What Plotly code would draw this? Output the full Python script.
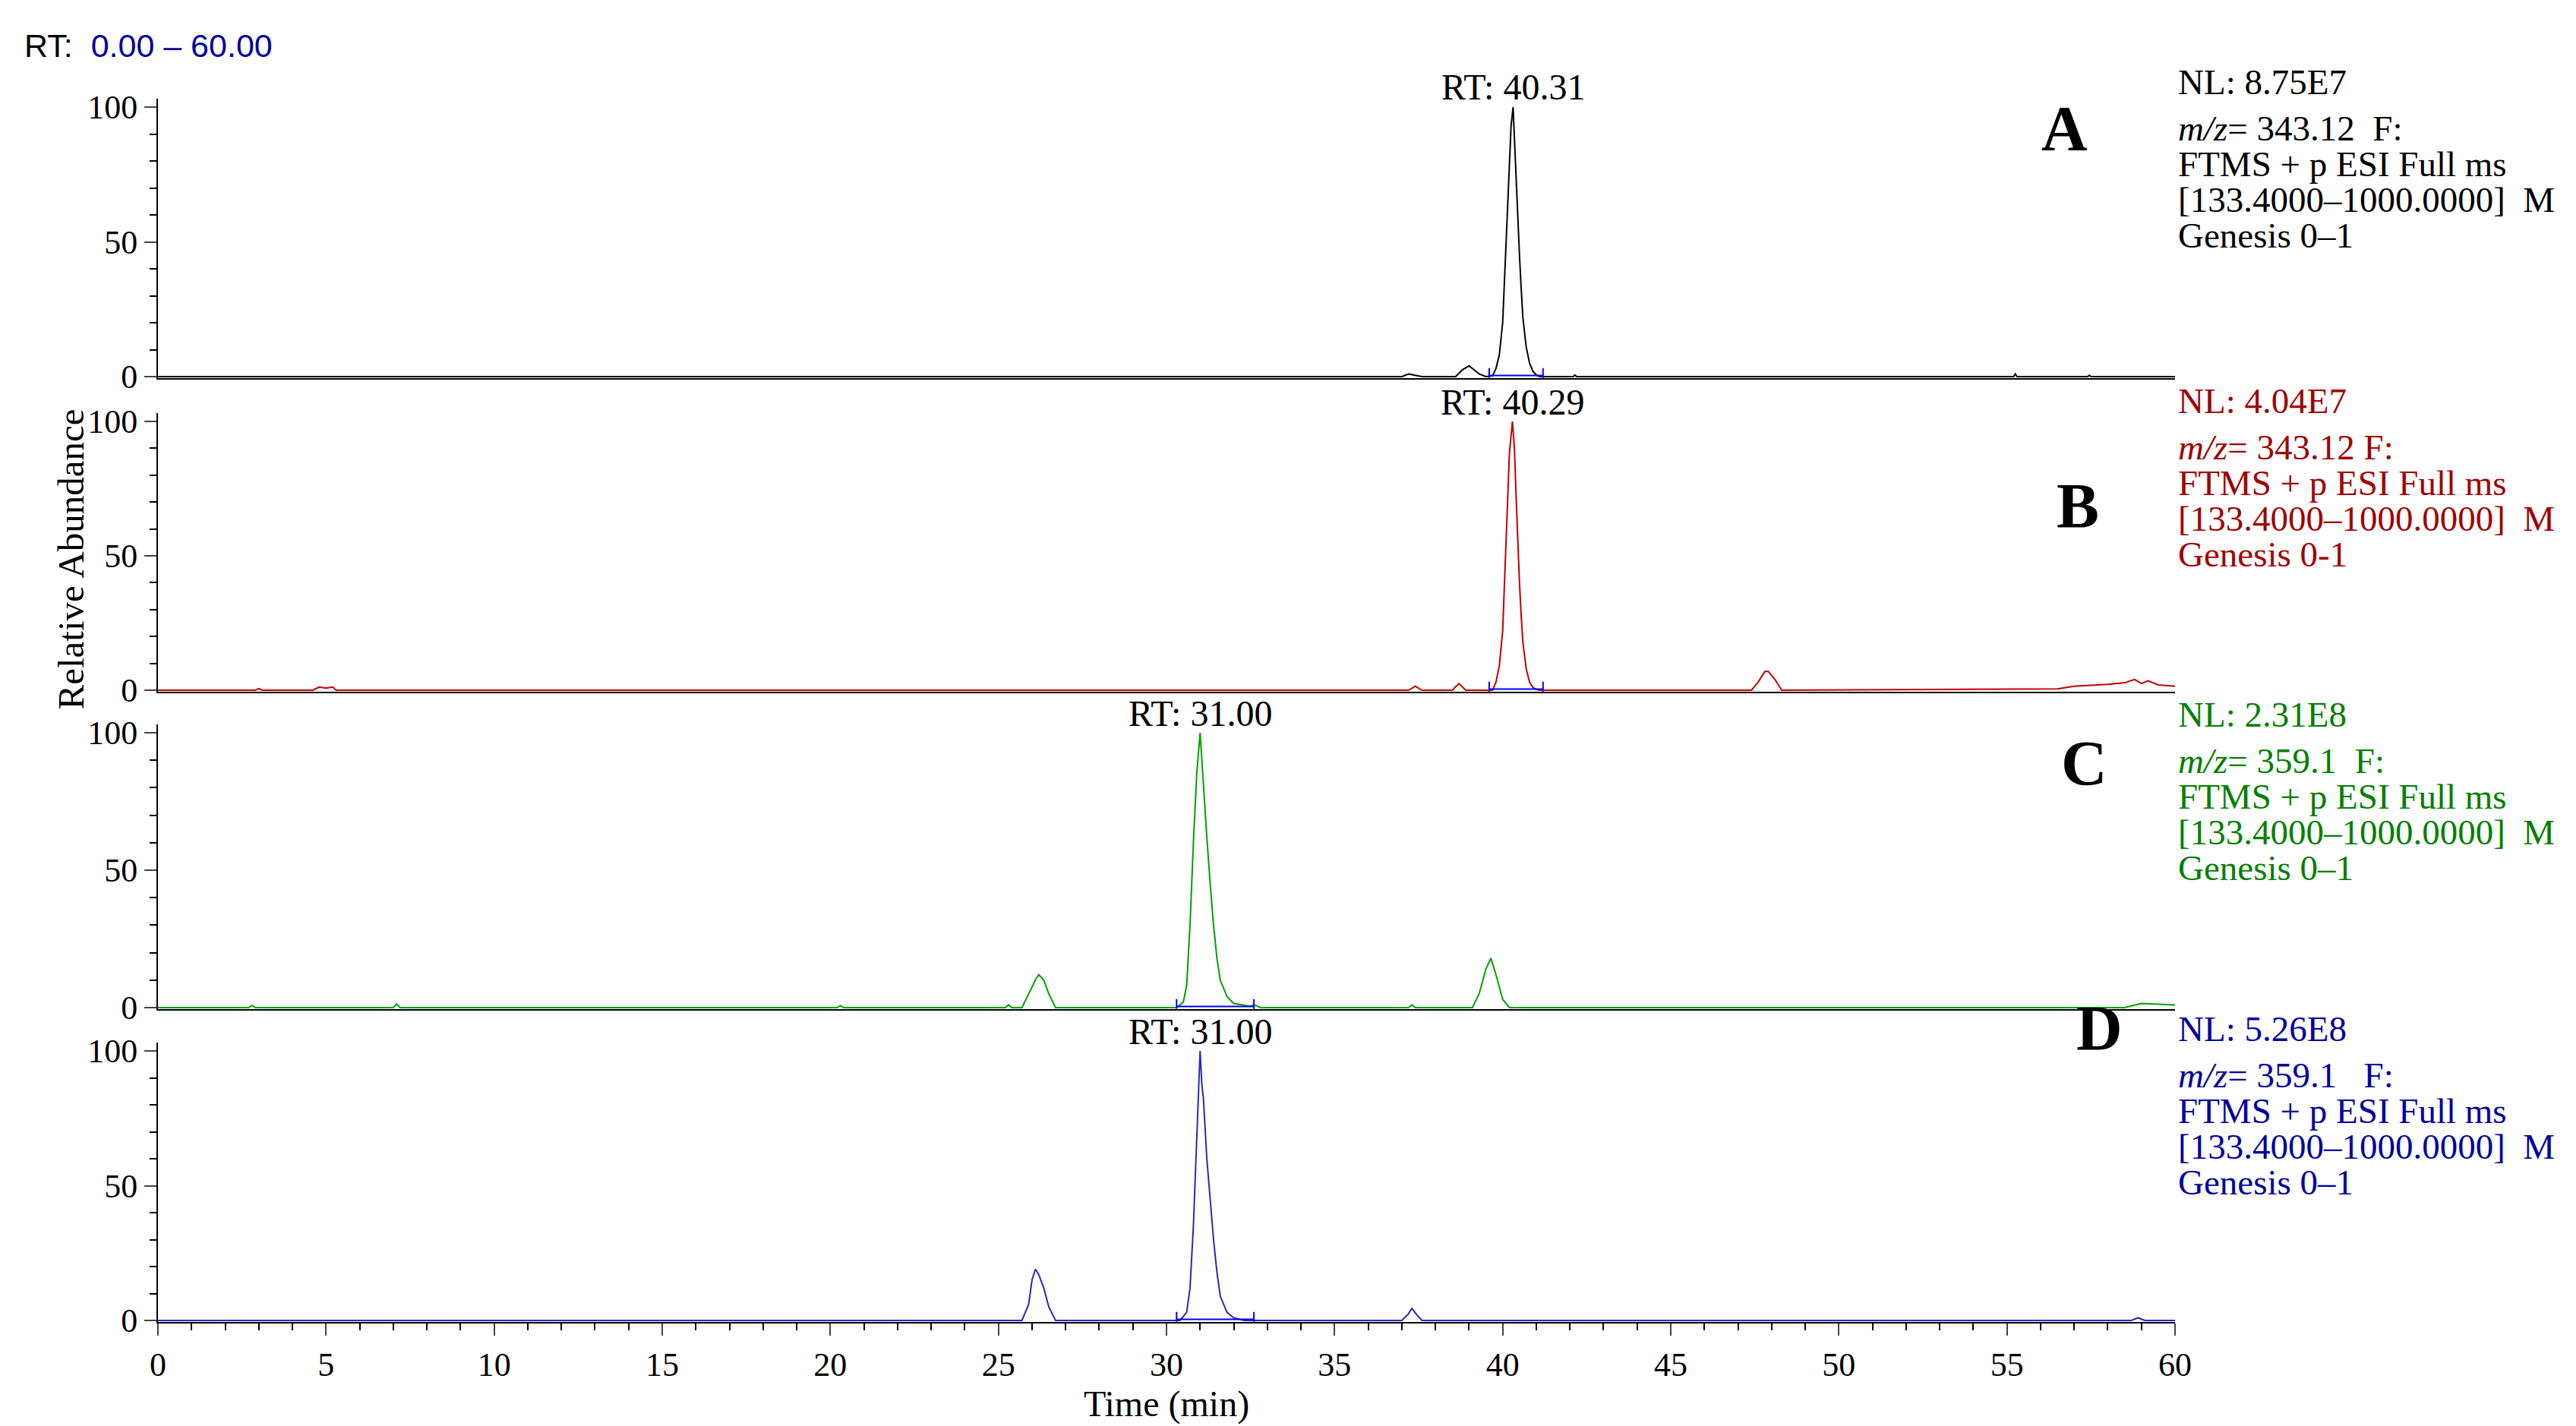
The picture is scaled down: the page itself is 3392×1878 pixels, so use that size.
import plotly.graph_objects as go

W, H = 3392, 1878
FONT = "Liberation Serif"
ML, MR = 200, 536
PW = W - ML - MR

# ---- data (time in min, relative abundance %) ----
a_t = [0, 37.0, 37.2, 37.4, 37.6, 38.6, 38.8, 39.0, 39.3, 39.5, 39.7, 39.8, 39.9, 40.0, 40.05, 40.1, 40.15, 40.2, 40.25, 40.31, 40.35, 40.4, 40.45, 40.5, 40.55, 40.6, 40.7, 40.8, 40.9, 41.0, 41.1, 42.1, 42.15, 42.2, 55.2, 55.25, 55.3, 57.4, 57.45, 57.5, 60]
a_y = [0, 0, 1, 0.6, 0, 0, 2.5, 4, 1, 0, 0.3, 3, 8, 20, 35, 52, 66, 82, 93, 100, 88, 72, 58, 45, 33, 22, 11, 5, 2, 0.6, 0, 0, 0.6, 0, 0, 1, 0, 0, 0.5, 0, 0]

b_t = [0, 2.9, 3.0, 3.1, 4.6, 4.8, 5.0, 5.2, 5.3, 37.2, 37.4, 37.6, 38.5, 38.7, 38.9, 39.7, 39.8, 39.9, 40.0, 40.05, 40.1, 40.15, 40.2, 40.29, 40.35, 40.4, 40.45, 40.5, 40.55, 40.6, 40.7, 40.8, 40.9, 41.0, 41.1, 47.4, 47.6, 47.8, 47.9, 48.1, 48.3, 56.5, 57.0, 57.5, 58.0, 58.5, 58.8, 59.0, 59.2, 59.5, 60]
b_y = [0, 0, 0.6, 0, 0, 1.2, 0.8, 1.2, 0, 0, 1.5, 0, 0, 2.5, 0, 0, 3, 9, 22, 38, 55, 72, 88, 100, 90, 72, 55, 40, 28, 18, 8, 3, 1, 0.3, 0, 0, 3, 7, 7, 4, 0, 0.5, 1.5, 1.8, 2.2, 2.8, 4, 2.5, 3.5, 2, 1.5]

c_t = [0, 2.7, 2.8, 2.9, 7.0, 7.1, 7.2, 20.2, 20.3, 20.4, 25.2, 25.3, 25.4, 25.7, 25.9, 26.1, 26.2, 26.35, 26.5, 26.7, 30.3, 30.5, 30.6, 30.7, 30.8, 30.9, 31.0, 31.05, 31.1, 31.2, 31.3, 31.4, 31.5, 31.6, 31.8, 32.0, 32.5, 32.6, 32.8, 37.2, 37.3, 37.4, 39.1, 39.3, 39.5, 39.65, 39.8, 40.0, 40.2, 58.5, 59.0, 59.5, 60]
c_y = [0, 0, 0.8, 0, 0, 1.3, 0, 0, 0.7, 0, 0, 1, 0, 0, 5, 10, 12, 10, 5, 0, 0, 2, 8, 30, 60, 85, 100, 90, 80, 62, 45, 30, 18, 10, 4, 1.5, 0.5, 1, 0, 0, 1, 0, 0, 5, 14, 18, 12, 3, 0, 0, 1.5, 1.2, 1.0]

d_t = [0, 25.7, 25.9, 26.0, 26.1, 26.2, 26.35, 26.5, 26.7, 30.4, 30.6, 30.7, 30.8, 30.9, 31.0, 31.05, 31.1, 31.2, 31.3, 31.4, 31.5, 31.6, 31.8, 32.0, 32.3, 37.0, 37.2, 37.3, 37.45, 37.6, 58.7, 58.9, 59.1, 60]
d_y = [0, 0, 6, 15, 19, 17, 12, 5, 0, 0, 3, 12, 35, 65, 100, 88, 82, 60, 45, 30, 18, 9, 3, 1, 0, 0, 2.5, 4.5, 2, 0, 0, 1, 0, 0]

# integration baselines (blue marks)
a_int_t = [39.6, 41.2]
b_int_t = [39.6, 41.2]
c_int_t = [30.3, 32.6]
d_int_t = [30.3, 32.6]

rt_labels = ["RT: 40.31", "RT: 40.29", "RT: 31.00", "RT: 31.00"]
rt_x = [40.31, 40.29, 31.00, 31.00]
letters = ["A", "B", "C", "D"]
line_colors = ["#000000", "#C00000", "#00A000", "#2828C0"]
text_colors = ["#000000", "#A00000", "#008000", "#0000A0"]
info = [
    ["NL: 8.75E7", "<i>m/z</i>= 343.12  F:", "FTMS + p ESI Full ms", "[133.4000–1000.0000]  M", "Genesis 0–1"],
    ["NL: 4.04E7", "<i>m/z</i>= 343.12 F:", "FTMS + p ESI Full ms", "[133.4000–1000.0000]  M", "Genesis 0-1"],
    ["NL: 2.31E8", "<i>m/z</i>= 359.1  F:", "FTMS + p ESI Full ms", "[133.4000–1000.0000]  M", "Genesis 0–1"],
    ["NL: 5.26E8", "<i>m/z</i>= 359.1   F:", "FTMS + p ESI Full ms", "[133.4000–1000.0000]  M", "Genesis 0–1"],
]
x_ticks = [0, 5, 10, 15, 20, 25, 30, 35, 40, 45, 50, 55, 60]
y_ticks = [0, 50, 100]

series = [(a_t, a_y, a_int_t), (b_t, b_y, b_int_t), (c_t, c_y, c_int_t), (d_t, d_y, d_int_t)]

# ---- layout geometry (pixels) ----
y0_px = [488, 901, 1319, 1731]
y100_px = [133, 547, 957, 1376]
letter_px = [(2743, 113), (2758, 610), (2769, 997), (2789, 1395)]
info_top_px = [100, 520, 933, 1347]
YMIN, YMAX = -0.5, 103

def py(p):
    return 1 - p / H

def px(p):
    return (p - ML) / PW

fig = go.Figure()
layout = dict(
    width=W, height=H, plot_bgcolor="white", paper_bgcolor="white",
    margin=dict(l=ML, r=MR, t=0, b=0, autoexpand=False), showlegend=False,
    font=dict(family=FONT, size=44, color="black"),
)
ann = []
for i, (t, y, it) in enumerate(series):
    n = "" if i == 0 else str(i + 1)
    xa, ya = "x" + n, "y" + n
    fig.add_trace(go.Scatter(x=t, y=y, mode="lines", line=dict(color=line_colors[i], width=2),
                             xaxis=xa, yaxis=ya, hoverinfo="skip"))
    fig.add_trace(go.Scatter(x=it, y=[0.4, 0.4], mode="lines+markers",
                             marker=dict(symbol="line-ns", size=14, line=dict(color="#0000FF", width=2)),
                             line=dict(color="#0000FF", width=2), xaxis=xa, yaxis=ya, hoverinfo="skip"))
    upp = (y0_px[i] - y100_px[i]) / 100
    bot = y0_px[i] - YMIN * upp
    top = y0_px[i] - YMAX * upp
    last = i == 3
    layout["xaxis" + n] = dict(
        range=[0, 60], domain=[0, 1], anchor=ya, showline=True, linecolor="black", linewidth=2,
        showgrid=False, zeroline=False, tickvals=x_ticks if last else [], automargin=False,
        showticklabels=last, ticks="outside" if last else "", ticklen=16, tickwidth=2,
        minor=dict(dtick=1, ticks="outside", ticklen=9, tickcolor="black", tickwidth=1.5) if last else dict(ticks=""),
        tickfont=dict(family=FONT, size=44),
        title=dict(text="Time (min)", font=dict(family=FONT, size=48), standoff=6) if last else None,
        matches=None if i == 0 else "x",
    )
    layout["yaxis" + n] = dict(
        range=[YMIN, YMAX], domain=[py(bot), py(top)], anchor=xa, showline=True, linecolor="black",
        linewidth=2, showgrid=False, zeroline=False, tickvals=y_ticks, ticks="outside", ticklen=16,
        tickwidth=2, automargin=False,
        minor=dict(dtick=10, ticks="outside", ticklen=9, tickcolor="black", tickwidth=1.5),
        tickfont=dict(family=FONT, size=44),
    )
    ann.append(dict(x=rt_x[i], y=py(y100_px[i] - 26), xref=xa, yref="paper", text=rt_labels[i],
                    showarrow=False, font=dict(family=FONT, size=48, color="black"), yanchor="middle"))
    lx, ly = letter_px[i]
    ann.append(dict(x=px(lx), y=py(ly), xref="paper", yref="paper", text="<b>" + letters[i] + "</b>",
                    showarrow=False, font=dict(family=FONT, size=84, color="black")))
    for k, line in enumerate(info[i]):
        ann.append(dict(x=px(2858), y=py(info_top_px[i] + k * 47 + (14 if k > 0 else 0)), xref="paper", yref="paper",
                        text=line, showarrow=False, xanchor="left", yanchor="middle",
                        font=dict(family=FONT, size=47, color=text_colors[i])))

ann.append(dict(x=px(22), y=py(52), xref="paper", yref="paper", xanchor="left", yanchor="middle",
                text="RT:  <span style='color:#0000A0'>0.00 – 60.00</span>", showarrow=False,
                font=dict(family="Liberation Sans", size=43, color="black")))
ann.append(dict(x=px(55), y=py(729), xref="paper", yref="paper", text="Relative Abundance", textangle=-90,
                showarrow=False, font=dict(family=FONT, size=49, color="black")))
layout["annotations"] = ann
fig.update_layout(**layout)
fig.write_html("out.html")
